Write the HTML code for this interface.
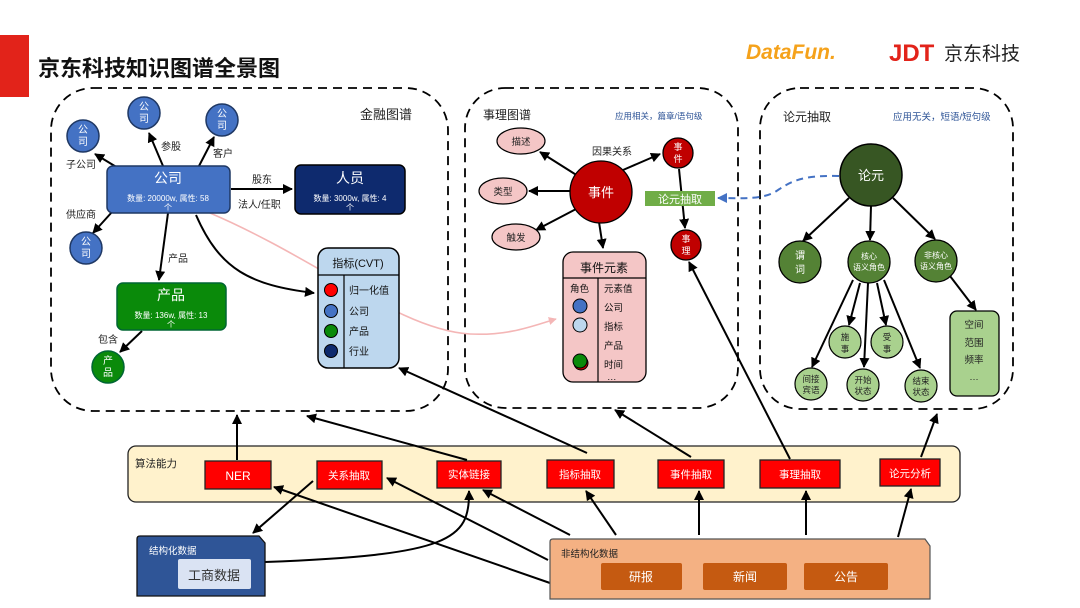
<!DOCTYPE html>
<html><head><meta charset="utf-8"><style>
html,body{margin:0;padding:0;background:#fff;width:1080px;height:608px;overflow:hidden}
svg{display:block}
text{font-family:"Liberation Sans","Noto Sans CJK SC",sans-serif}
</style></head><body>
<svg width="1080" height="608" viewBox="0 0 1080 608" xmlns="http://www.w3.org/2000/svg">
<defs>
<marker id="a" viewBox="0 0 10 10" refX="9" refY="5" markerWidth="5" markerHeight="5" orient="auto-start-reverse"><path d="M0,0L10,5L0,10z" fill="#000"/></marker>
<marker id="ab" viewBox="0 0 10 10" refX="9" refY="5" markerWidth="5" markerHeight="5" orient="auto"><path d="M0,0L10,5L0,10z" fill="#4472c4"/></marker>
<marker id="ap" viewBox="0 0 10 10" refX="9" refY="5" markerWidth="5" markerHeight="5" orient="auto"><path d="M0,0L10,5L0,10z" fill="#f4b6b6"/></marker>
</defs>
<!-- header -->
<rect x="0" y="35" width="29" height="62" fill="#e2231a"/>
<text x="38" y="76" font-size="22" font-weight="bold" fill="#111">京东科技知识图谱全景图</text>
<text x="746" y="59" font-size="21" font-style="italic" font-weight="bold" fill="#f5a21b">DataFun.</text>
<text x="889" y="61" font-size="24" font-weight="bold" fill="#e2231a">JDT</text>
<text x="944" y="60" font-size="19" fill="#222">京东科技</text>

<!-- panels -->
<g fill="none" stroke="#000" stroke-width="1.8" stroke-dasharray="9,6">
<rect x="51" y="88" width="397" height="323" rx="42"/>
<rect x="465" y="88" width="273" height="320" rx="40"/>
<rect x="760" y="88" width="253" height="321" rx="40"/>
</g>

<!-- Panel 1 -->
<text x="360" y="119" font-size="13" fill="#222">金融图谱</text>
<g stroke="#000" stroke-width="2" fill="none" marker-end="url(#a)">
<line x1="118" y1="168" x2="95" y2="154"/>
<line x1="163" y1="166" x2="149" y2="133"/>
<line x1="199" y1="166" x2="214" y2="137"/>
<line x1="112" y1="212" x2="93" y2="233"/>
<line x1="231" y1="189" x2="292" y2="189"/>
<line x1="168" y1="213" x2="159" y2="280"/>
<line x1="142" y1="331" x2="120" y2="352"/>
<path d="M196,215 C220,270 250,285 314,293"/>
</g>
<path d="M210,213 C320,260 400,330 470,334 C510,336 535,325 556,319" stroke="#f4b6b6" stroke-width="1.6" fill="none" marker-end="url(#ap)"/>
<g fill="#4472c4" stroke="#1f3864" stroke-width="1.5">
<circle cx="83" cy="136" r="16"/><circle cx="144" cy="113" r="16"/><circle cx="222" cy="120" r="16"/><circle cx="86" cy="248" r="16"/>
</g>
<g fill="#fff" font-size="10" text-anchor="middle">
<text x="83" y="133">公</text><text x="83" y="145">司</text>
<text x="144" y="110">公</text><text x="144" y="122">司</text>
<text x="222" y="117">公</text><text x="222" y="129">司</text>
<text x="86" y="245">公</text><text x="86" y="257">司</text>
</g>
<rect x="107" y="166" width="123" height="47" rx="6" fill="#4472c4" stroke="#1f3864" stroke-width="1.5"/>
<text x="168" y="183" font-size="14" fill="#fff" text-anchor="middle">公司</text>
<text x="168" y="201" font-size="8" fill="#fff" text-anchor="middle">数量: 20000w, 属性: 58</text>
<text x="168" y="210" font-size="8" fill="#fff" text-anchor="middle">个</text>
<rect x="295" y="165" width="110" height="49" rx="6" fill="#0e2a6e" stroke="#000" stroke-width="1.5"/>
<text x="350" y="183" font-size="14" fill="#fff" text-anchor="middle">人员</text>
<text x="350" y="201" font-size="8" fill="#fff" text-anchor="middle">数量: 3000w, 属性: 4</text>
<text x="350" y="210" font-size="8" fill="#fff" text-anchor="middle">个</text>
<rect x="117" y="283" width="109" height="47" rx="6" fill="#0a8a0a" stroke="#063" stroke-width="1.5"/>
<text x="171" y="300" font-size="14" fill="#fff" text-anchor="middle">产品</text>
<text x="171" y="318" font-size="8" fill="#fff" text-anchor="middle">数量: 136w, 属性: 13</text>
<text x="171" y="327" font-size="8" fill="#fff" text-anchor="middle">个</text>
<circle cx="108" cy="367" r="16" fill="#0a8a0a" stroke="#063" stroke-width="1.5"/>
<text x="108" y="364" font-size="10" fill="#fff" text-anchor="middle">产</text><text x="108" y="376" font-size="10" fill="#fff" text-anchor="middle">品</text>
<g font-size="10" fill="#222">
<text x="161" y="150">参股</text><text x="213" y="157">客户</text><text x="66" y="168">子公司</text>
<text x="252" y="183">股东</text><text x="238" y="208">法人/任职</text><text x="66" y="218">供应商</text>
<text x="168" y="262">产品</text><text x="98" y="343">包含</text>
</g>
<rect x="318" y="248" width="81" height="120" rx="10" fill="#bdd7ee" stroke="#000" stroke-width="1.5"/>
<line x1="318" y1="275" x2="399" y2="275" stroke="#000" stroke-width="1.2"/>
<line x1="344" y1="275" x2="344" y2="368" stroke="#000" stroke-width="1.2"/>
<text x="358" y="267" font-size="11" fill="#111" text-anchor="middle">指标(CVT)</text>
<g stroke="#000" stroke-width="1">
<circle cx="331" cy="290" r="6.5" fill="#f00"/><circle cx="331" cy="311" r="6.5" fill="#4472c4"/>
<circle cx="331" cy="331" r="6.5" fill="#0a8a0a"/><circle cx="331" cy="351" r="6.5" fill="#0e2a6e"/>
</g>
<g font-size="10" fill="#111"><text x="349" y="294">归一化值</text><text x="349" y="315">公司</text><text x="349" y="335">产品</text><text x="349" y="355">行业</text></g>

<!-- Panel 2 -->
<text x="483" y="119" font-size="12" fill="#222">事理图谱</text>
<text x="615" y="119" font-size="8.5" fill="#2f5597">应用相关，篇章/语句级</text>
<g stroke="#000" stroke-width="2" fill="none" marker-end="url(#a)">
<line x1="578" y1="176" x2="540" y2="152"/>
<line x1="570" y1="191" x2="529" y2="191"/>
<line x1="578" y1="208" x2="536" y2="230"/>
<line x1="623" y1="170" x2="660" y2="154"/>
<line x1="599" y1="222" x2="603" y2="248"/>
<line x1="679" y1="169" x2="685" y2="228"/>
</g>
<g fill="#f4c6c6" stroke="#000" stroke-width="1.2">
<ellipse cx="521" cy="141" rx="24" ry="13"/><ellipse cx="503" cy="191" rx="24" ry="13"/><ellipse cx="516" cy="237" rx="24" ry="13"/>
</g>
<g font-size="9.5" fill="#222" text-anchor="middle"><text x="521" y="145">描述</text><text x="503" y="195">类型</text><text x="516" y="241">触发</text></g>
<text x="592" y="155" font-size="10" fill="#222">因果关系</text>
<g fill="#c00000" stroke="#000" stroke-width="1.3">
<circle cx="601" cy="192" r="31"/><circle cx="678" cy="153" r="15"/><circle cx="686" cy="245" r="15"/>
</g>
<text x="601" y="197" font-size="13" fill="#fff" text-anchor="middle">事件</text>
<g font-size="9" fill="#fff" text-anchor="middle"><text x="678" y="150">事</text><text x="678" y="162">件</text><text x="686" y="242">事</text><text x="686" y="254">理</text></g>
<rect x="645" y="191" width="70" height="15" fill="#70ad47"/>
<text x="680" y="203" font-size="11" fill="#fff" text-anchor="middle">论元抽取</text>
<rect x="563" y="252" width="83" height="130" rx="10" fill="#f4c6c6" stroke="#000" stroke-width="1.3"/>
<line x1="563" y1="278" x2="646" y2="278" stroke="#000" stroke-width="1.2"/>
<line x1="598" y1="278" x2="598" y2="382" stroke="#000" stroke-width="1.2"/>
<text x="604" y="272" font-size="12" fill="#111" text-anchor="middle">事件元素</text>
<g font-size="9.5" fill="#111"><text x="570" y="292">角色</text><text x="604" y="292">元素值</text><text x="604" y="311">公司</text><text x="604" y="330">指标</text><text x="604" y="349">产品</text><text x="604" y="368">时间</text><text x="607" y="380">…</text></g>
<g stroke="#000" stroke-width="1"><circle cx="580" cy="306" r="7" fill="#4472c4"/><circle cx="580" cy="325" r="7" fill="#bdd7ee"/><circle cx="581" cy="363" r="7" fill="#c00000"/><circle cx="580" cy="361" r="7" fill="#0a8a0a"/></g>

<!-- Panel 3 -->
<text x="783" y="121" font-size="12" fill="#222">论元抽取</text>
<text x="893" y="120" font-size="9.5" fill="#2f5597">应用无关，短语/短句级</text>
<path d="M839,176 C800,175 790,182 775,192 C760,200 740,198 718,198" stroke="#4472c4" stroke-width="2" stroke-dasharray="7,5" fill="none" marker-end="url(#ab)"/>
<g stroke="#000" stroke-width="2" fill="none" marker-end="url(#a)">
<line x1="849" y1="198" x2="803" y2="241"/>
<line x1="871" y1="206" x2="870" y2="240"/>
<line x1="893" y1="198" x2="935" y2="239"/>
<line x1="853" y1="280" x2="812" y2="367"/>
<line x1="860" y1="283" x2="849" y2="325"/>
<line x1="868" y1="283" x2="864" y2="367"/>
<line x1="877" y1="283" x2="886" y2="325"/>
<line x1="884" y1="280" x2="920" y2="368"/>
<line x1="950" y1="276" x2="976" y2="310"/>
</g>
<circle cx="871" cy="175" r="31" fill="#375623" stroke="#000" stroke-width="1.5"/>
<text x="871" y="180" font-size="13" fill="#fff" text-anchor="middle">论元</text>
<g fill="#548235" stroke="#000" stroke-width="1.3"><circle cx="800" cy="262" r="21"/><circle cx="869" cy="262" r="21"/><circle cx="936" cy="261" r="21"/></g>
<g fill="#fff" text-anchor="middle"><text x="800" y="259" font-size="10">谓</text><text x="800" y="273" font-size="10">词</text>
<text x="869" y="259" font-size="8">核心</text><text x="869" y="270" font-size="8">语义角色</text>
<text x="936" y="258" font-size="8">非核心</text><text x="936" y="269" font-size="8">语义角色</text></g>
<g fill="#a9d18e" stroke="#000" stroke-width="1.2"><circle cx="845" cy="342" r="16"/><circle cx="887" cy="342" r="16"/><circle cx="811" cy="384" r="16"/><circle cx="863" cy="385" r="16"/><circle cx="921" cy="386" r="16"/></g>
<g font-size="8.5" fill="#222" text-anchor="middle">
<text x="845" y="340">施</text><text x="845" y="352">事</text><text x="887" y="340">受</text><text x="887" y="352">事</text>
<text x="811" y="382">间接</text><text x="811" y="393">宾语</text><text x="863" y="383">开始</text><text x="863" y="394">状态</text><text x="921" y="384">结束</text><text x="921" y="395">状态</text></g>
<rect x="950" y="311" width="49" height="85" rx="7" fill="#a9d18e" stroke="#000" stroke-width="1.3"/>
<g font-size="9.5" fill="#222" text-anchor="middle"><text x="974" y="328">空间</text><text x="974" y="346">范围</text><text x="974" y="363">频率</text><text x="974" y="380">…</text></g>

<!-- algorithm band -->
<rect x="128" y="446" width="832" height="56" rx="8" fill="#fff2cc" stroke="#222" stroke-width="1.3"/>
<text x="135" y="467" font-size="10.5" fill="#222">算法能力</text>
<g fill="#ff0000" stroke="#222" stroke-width="1.3">
<rect x="205" y="461" width="66" height="28"/><rect x="317" y="461" width="65" height="28"/><rect x="437" y="461" width="64" height="27"/>
<rect x="547" y="460" width="67" height="28"/><rect x="658" y="460" width="66" height="28"/><rect x="760" y="460" width="80" height="28"/><rect x="880" y="459" width="60" height="27"/>
</g>
<g fill="#fff" font-size="10.5" text-anchor="middle">
<text x="238" y="480" font-size="12">NER</text><text x="349" y="479">关系抽取</text><text x="469" y="478">实体链接</text><text x="580" y="478">指标抽取</text><text x="691" y="478">事件抽取</text><text x="800" y="478">事理抽取</text><text x="910" y="477">论元分析</text></g>

<!-- upward arrows -->
<g stroke="#000" stroke-width="2" fill="none" marker-end="url(#a)">
<line x1="237" y1="460" x2="237" y2="415"/>
<line x1="467" y1="460" x2="307" y2="416"/>
<line x1="587" y1="453" x2="399" y2="368"/>
<line x1="691" y1="457" x2="615" y2="410"/>
<line x1="790" y1="459" x2="689" y2="262"/>
<line x1="921" y1="457" x2="937" y2="414"/>
<line x1="313" y1="481" x2="253" y2="533"/>
<path d="M265,562 C450,555 470,540 469,491"/>
<line x1="550" y1="583" x2="274" y2="487"/>
<line x1="548" y1="560" x2="387" y2="478"/>
<line x1="570" y1="535" x2="483" y2="490"/>
<line x1="616" y1="535" x2="586" y2="491"/>
<line x1="699" y1="535" x2="699" y2="491"/>
<line x1="806" y1="535" x2="806" y2="491"/>
<line x1="898" y1="537" x2="911" y2="489"/>
</g>

<!-- data boxes -->
<path d="M137,596 L137,539 Q137,536 140,536 L259,536 L265,543 L265,596 Z" fill="#2f5597" stroke="#111" stroke-width="1.3"/>
<text x="149" y="554" font-size="9.5" fill="#fff">结构化数据</text>
<rect x="178" y="559" width="73" height="30" rx="2" fill="#dae3f3"/>
<text x="214" y="580" font-size="13" fill="#333" text-anchor="middle">工商数据</text>
<path d="M550,599 L550,542 Q550,539 553,539 L925,539 L930,546 L930,599 Z" fill="#f4b183" stroke="#555" stroke-width="1.2"/>
<text x="561" y="557" font-size="9.5" fill="#222">非结构化数据</text>
<g fill="#c55a11"><rect x="601" y="563" width="81" height="27" rx="2"/><rect x="703" y="563" width="84" height="27" rx="2"/><rect x="804" y="563" width="84" height="27" rx="2"/></g>
<g fill="#fff" font-size="12" text-anchor="middle"><text x="641" y="581">研报</text><text x="745" y="581">新闻</text><text x="846" y="581">公告</text></g>
</svg>
</body></html>
